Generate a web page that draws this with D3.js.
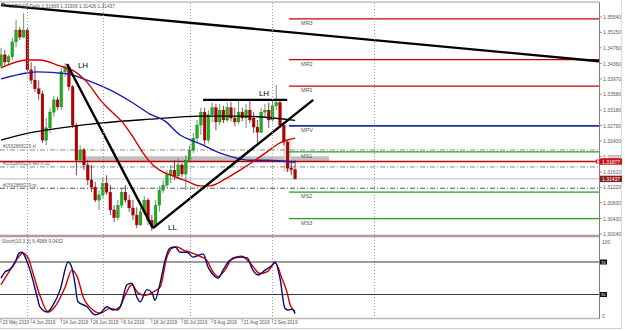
<!DOCTYPE html>
<html>
<head>
<meta charset="UTF-8">
<title>USDCAD,Daily</title>
<style>
  body { margin: 0; background: #fff; }
  svg text { font-family: "Liberation Sans", Arial, sans-serif; }
</style>
</head>
<body>
<script src="https://d3js.org/d3.v7.min.js"></script>
<script>
'use strict';

// ---- data ----
var firstBarDate = "2019-05-23";
var opens  = [1.3430,1.3458,1.3440,1.3453,1.3491,1.3521,1.3503,1.3521,1.3420,1.3394,1.3372,1.3359,1.3242,1.3273,1.3313,1.3344,1.3326,1.3415,1.3427,1.3377,
              1.3280,1.3191,1.3217,1.3179,1.3141,1.3123,1.3090,1.3103,1.3133,1.3110,1.3065,1.3045,1.3077,1.3110,1.3090,1.3070,1.3052,1.3027,1.3060,1.3090,
              1.3039,1.3024,1.3077,1.3115,1.3128,1.3153,1.3166,1.3151,1.3179,1.3156,1.3191,1.3217,1.3247,1.3280,1.3313,1.3242,1.3306,1.3324,1.3288,1.3318,
              1.3293,1.3324,1.3298,1.3288,1.3313,1.3298,1.3318,1.3298,1.3275,1.3262,1.3313,1.3318,1.3293,1.3329,1.3337,1.3280,1.3237,1.3171,1.31669];
var highs  = [1.3475,1.3470,1.3458,1.3501,1.3546,1.3529,1.3564,1.3526,1.3440,1.3430,1.3394,1.3367,1.3298,1.3324,1.3354,1.3352,1.3425,1.3437,1.3435,1.3382,
              1.3285,1.3229,1.3222,1.3191,1.3179,1.3136,1.3115,1.3146,1.3153,1.3128,1.3077,1.3090,1.3121,1.3128,1.3103,1.3090,1.3072,1.3070,1.3100,1.3095,
              1.3052,1.3090,1.3126,1.3141,1.3166,1.3179,1.3191,1.3196,1.3184,1.3204,1.3229,1.3260,1.3293,1.3324,1.3324,1.3318,1.3337,1.3334,1.3334,1.3329,
              1.3337,1.3339,1.3324,1.3344,1.3324,1.3334,1.3344,1.3313,1.3293,1.3324,1.3334,1.3337,1.3344,1.3382,1.3344,1.3288,1.3242,1.3191,1.31909];
var lows   = [1.3425,1.3432,1.3435,1.3445,1.3478,1.3496,1.3501,1.3415,1.3384,1.3364,1.3344,1.3235,1.3229,1.3260,1.3301,1.3318,1.3318,1.3402,1.3367,1.3273,
              1.3153,1.3184,1.3166,1.3128,1.3110,1.3085,1.3065,1.3095,1.3103,1.3052,1.3034,1.3039,1.3070,1.3083,1.3060,1.3039,1.3019,1.3024,1.3052,1.3027,
              1.3012,1.3019,1.3060,1.3108,1.3121,1.3133,1.3141,1.3146,1.3148,1.3115,1.3186,1.3209,1.3237,1.3255,1.3229,1.3235,1.3288,1.3267,1.3280,1.3285,
              1.3288,1.3290,1.3278,1.3283,1.3290,1.3273,1.3285,1.3260,1.3235,1.3260,1.3298,1.3273,1.3288,1.3318,1.3273,1.3229,1.3161,1.3153,1.31426];
var closes = [1.3458,1.3440,1.3453,1.3491,1.3521,1.3503,1.3521,1.3420,1.3394,1.3372,1.3359,1.3242,1.3273,1.3313,1.3344,1.3326,1.3415,1.3427,1.3377,1.3280,
              1.3191,1.3217,1.3179,1.3141,1.3123,1.3090,1.3103,1.3133,1.3110,1.3065,1.3045,1.3077,1.3110,1.3090,1.3070,1.3052,1.3027,1.3060,1.3090,1.3039,
              1.3024,1.3077,1.3115,1.3128,1.3153,1.3166,1.3151,1.3179,1.3156,1.3191,1.3217,1.3247,1.3280,1.3313,1.3242,1.3306,1.3324,1.3288,1.3318,1.3293,
              1.3324,1.3298,1.3288,1.3313,1.3298,1.3318,1.3293,1.3275,1.3262,1.3313,1.3318,1.3293,1.3329,1.3337,1.3280,1.3237,1.3171,1.3167,1.31437];

// moving averages, [bar, price]
var maRed   = [[0,1.3425],[6.9,1.3445],[10.3,1.3445],[15.6,1.3430],[18.8,1.3420],[22.8,1.3389],[26.3,1.3344],[28.9,1.3318],[32.4,1.3285],[35,1.3250],
               [37.7,1.3209],[40.3,1.3179],[43,1.3161],[45.6,1.3151],[49.3,1.3138],[52.8,1.3126],[55.4,1.3126],[59.4,1.3143],[63.4,1.3166],[67.4,1.3191],
               [70.8,1.3214],[74,1.3235],[78,1.3247]];
var maBlue  = [[0,1.3397],[6.9,1.3412],[9.5,1.3415],[17.5,1.3410],[22.8,1.3394],[28.9,1.3369],[35,1.3336],[39.5,1.3308],[43.5,1.3290],[47.5,1.3255],
               [50.9,1.3240],[54.1,1.3227],[57.3,1.3212],[61.5,1.3199],[66,1.3191],[70.6,1.3191],[78,1.3186]];
var maBlack = [[0,1.3242],[8.5,1.3262],[17.5,1.3275],[26.3,1.3285],[39.5,1.3295],[52.8,1.3303],[63.4,1.3303],[78,1.3292]];

// stochastic (10,3,3), [bar, value]
var stochMain = [[0,50],[1.1,58],[2.4,61],[3.7,69],[4.8,81],[5.6,82],[6.4,76],[7.7,60],[9.6,27],[10.3,15],[12.2,8.5],[13.8,17],[15.7,36],[17.8,70],
                 [18.8,63],[19.6,44],[20.4,21],[22.8,15],[24.9,5],[26.3,7],[28.1,15],[29.7,11],[31.6,15],[33.4,42],[34.7,44],[36.1,26],[36.9,21],
                 [38.7,36],[40.1,32],[40.8,23],[42.2,44],[43.5,72],[44.8,87],[46.2,88.5],[47.5,82],[49.3,82],[50.9,76],[52.8,79],[53.6,80],[54.9,64],
                 [56.8,52],[57.6,50],[58.9,60],[60.7,72],[63.4,76],[65.3,75],[66.8,60],[68.2,54],[70,60],[71.9,66],[72.7,70],[74,50],[75.3,13],
                 [76.1,11],[77.2,12],[78,6.5]];
var stochSignal = [[0,42],[2.4,60],[4.5,75],[5.8,81],[7.2,75],[8.5,56],[10.3,29],[12.5,8.5],[14.3,15],[17,39],[18.8,60],[20.2,52],[21.8,27],
                   [24.4,11],[26.3,7],[28.9,13],[31,11],[32.9,29],[34.7,42],[36.3,32],[38.2,29],[40.3,33],[42.2,39],[44,76],[45.4,87],[46.7,88.5],
                   [48.3,85],[50.1,82],[52.8,77],[54.6,72],[56.2,58],[57.6,52],[59.4,60],[61.5,75],[63.9,77],[66,69],[68.7,56],[70.6,58],
                   [72.7,69],[74.5,50],[75.9,32],[76.7,17],[78,9]];
var stochLevels = [70, 30];

// drawn objects
var trendLines = [
  [[0,1.3584],[158.6,1.3442]],
  [[17.5,1.3435],[40.3,1.3019]],
  [[40.3,1.3019],[82.8,1.3344]],
  [[53.6,1.3344],[75.9,1.3344]]
];
var swingNames = ["LH", "LH", "LL"];
var swingPoints = [[20.4,1.3425],[68.4,1.3354],[44.3,1.3014]];

var pivotNames  = ["MR3","MR2","MR1","MPV","MS1","MS2","MS3"];
var pivotValues = [1.3549,1.3446,1.3379,1.3278,1.3212,1.3110,1.3043];
var pivotColors = ["#c80000","#c80000","#c80000","#1a2f9e","#22a022","#22a022","#22a022"];
var pivotFromBar = 76.4;

var orderNames  = ["#1562888229 sl", "#1562888229 sell 0.10", "#1562888229 tp"];
var orderPrices = [1.3217, 1.3174, 1.3120];
var hLinePrice = 1.31877;
var bidPrice = 1.31437;
var bandBars = [22, 87], bandPrices = [1.31877, 1.3201];
var boxBars = [74.9, 77], boxPrices = [1.3161, 1.3245];

var priceTicks = [1.35540,1.35150,1.34760,1.34360,1.33970,1.33580,1.33180,1.32790,1.32400,1.32000,1.31610,1.31220,1.30830,1.30430,1.30040];
var dateTicks  = ["2019-05-23","2019-06-04","2019-06-14","2019-06-26","2019-07-08","2019-07-18","2019-07-30","2019-08-09","2019-08-21","2019-09-02"];
var gridDates  = ["2019-06-03","2019-07-01","2019-08-01","2019-09-02","2019-10-09"];

// ---- layout ----
var width = 625, height = 331;
var plotRight = 599;
var mainTop = 3, mainBottom = 235;

var parse = d3.timeParse("%Y-%m-%d");
var fmt = d3.timeFormat("%-d %b %Y");

// bar number of a date, counting weekdays only
function barOf(s){
	var d0 = parse(firstBarDate), d1 = parse(s);
	return d3.timeDay.range(d0, d1).filter(function(d){ var w = d.getDay(); return w > 0 && w < 6; }).length;
}

var x = d3.scaleLinear().domain([0, 158.6]).range([1, plotRight]);
var y = d3.scaleLinear().domain([1.3004, 1.3554]).range([234, 17]);
var ys = d3.scaleLinear().domain([0, 100]).range([318.9, 237.6]);

var svg = d3.select("body").append("svg")
	.attr("width", width)
	.attr("height", height);

svg.append("rect").attr("width", width).attr("height", height).attr("fill", "#fff");

svg.append("clipPath").attr("id", "mainclip")
	.append("rect").attr("x", 0).attr("y", mainTop).attr("width", plotRight).attr("height", mainBottom - mainTop);

var main = svg.append("g").attr("clip-path", "url(#mainclip)");

// vertical dotted grid
gridDates.forEach(function(s){
	var gx = Math.round(x(barOf(s))) + 0.5;
	svg.append("line")
		.attr("x1", gx).attr("x2", gx).attr("y1", mainTop).attr("y2", 318)
		.attr("stroke", "#9a9a9a").attr("stroke-width", 1).attr("stroke-dasharray", "1,2");
});

// grey band and box
main.append("rect")
	.attr("x", x(bandBars[0])).attr("width", x(bandBars[1]) - x(bandBars[0]))
	.attr("y", y(bandPrices[1])).attr("height", y(bandPrices[0]) - y(bandPrices[1]))
	.attr("fill", "#bab2b2").attr("opacity", 0.85);
main.append("rect")
	.attr("x", x(boxBars[0])).attr("width", x(boxBars[1]) - x(boxBars[0]))
	.attr("y", y(boxPrices[1])).attr("height", y(boxPrices[0]) - y(boxPrices[1]))
	.attr("fill", "#d4d4d4").attr("opacity", 0.8);

// order lines
var orderColors = ["#8f8f70", "#8a8a8a", "#555"];
orderPrices.forEach(function(p, i){
	main.append("line")
		.attr("x1", 0).attr("x2", plotRight).attr("y1", y(p)).attr("y2", y(p))
		.attr("stroke", orderColors[i]).attr("stroke-width", 1).attr("stroke-dasharray", "5,2,1,2");
	main.append("text")
		.attr("x", 3).attr("y", y(p) - 1.5)
		.attr("font-size", 4.6).attr("fill", "#666")
		.text(orderNames[i]);
});

// bid line
main.append("line")
	.attr("x1", 0).attr("x2", plotRight).attr("y1", y(bidPrice)).attr("y2", y(bidPrice))
	.attr("stroke", "#aebdc6").attr("stroke-width", 1);

// horizontal red line
main.append("line")
	.attr("x1", 0).attr("x2", plotRight).attr("y1", y(hLinePrice)).attr("y2", y(hLinePrice))
	.attr("stroke", "#c00000").attr("stroke-width", 1.3);

// pivot lines
pivotValues.forEach(function(p, i){
	main.append("line")
		.attr("x1", x(pivotFromBar)).attr("x2", plotRight).attr("y1", y(p)).attr("y2", y(p))
		.attr("stroke", pivotColors[i]).attr("stroke-width", i === 3 ? 1.8 : 1.3);
	main.append("text")
		.attr("x", x(pivotFromBar) + 12).attr("y", y(p) + 6)
		.attr("font-size", 5.5).attr("fill", "#555")
		.text(pivotNames[i]);
});

// candles
var bars = d3.range(opens.length);
var bodyW = 2.8;
var cg = main.append("g");
bars.forEach(function(i){
	var up = closes[i] >= opens[i];
	var cx = x(i);
	cg.append("line")
		.attr("x1", cx).attr("x2", cx)
		.attr("y1", y(highs[i])).attr("y2", y(lows[i]))
		.attr("stroke", up ? "#4a7a4a" : "#6a1a1a").attr("stroke-width", 0.8);
	var top = y(Math.max(opens[i], closes[i])), bot = y(Math.min(opens[i], closes[i]));
	cg.append("rect")
		.attr("x", cx - bodyW / 2).attr("width", bodyW)
		.attr("y", top).attr("height", Math.max(1, bot - top))
		.attr("fill", up ? "#1fae1f" : "#b40000")
		.attr("stroke", up ? "#147014" : "#7a0000").attr("stroke-width", 0.3);
});

// moving averages
var maLine = d3.line()
	.x(function(d){ return x(d[0]); })
	.y(function(d){ return y(d[1]); })
	.curve(d3.curveMonotoneX);

[[maBlack, "#000", 1.3], [maBlue, "#1c1cb0", 1.4], [maRed, "#d40000", 1.4]].forEach(function(m){
	main.append("path").datum(m[0])
		.attr("d", maLine)
		.attr("fill", "none").attr("stroke", m[1]).attr("stroke-width", m[2]);
});

// trend lines
trendLines.forEach(function(t){
	main.append("line")
		.attr("x1", x(t[0][0])).attr("y1", y(t[0][1]))
		.attr("x2", x(t[1][0])).attr("y2", y(t[1][1]))
		.attr("stroke", "#000").attr("stroke-width", 2.4);
});

swingPoints.forEach(function(p, i){
	main.append("text")
		.attr("x", x(p[0])).attr("y", y(p[1]))
		.attr("font-size", 8).attr("fill", "#000")
		.text(swingNames[i]);
});

// header
svg.append("path").attr("d", "M1,3 L5,3 L3,7 Z").attr("fill", "#555");
svg.append("text")
	.attr("x", 8).attr("y", 7.5)
	.attr("font-size", 4.8).attr("fill", "#555")
	.text("USDCAD,Daily  1.31669 1.31909 1.31426 1.31437");

// frame lines
svg.append("line").attr("x1", 0).attr("x2", plotRight).attr("y1", 2).attr("y2", 2)
	.attr("stroke", "#b49a9a").attr("stroke-width", 1.2);
svg.append("line").attr("x1", plotRight + 0.5).attr("x2", plotRight + 0.5).attr("y1", 2).attr("y2", 319)
	.attr("stroke", "#8c7a7a").attr("stroke-width", 1);
svg.append("line").attr("x1", 0).attr("x2", plotRight).attr("y1", 236).attr("y2", 236)
	.attr("stroke", "#b09a9a").attr("stroke-width", 2.6);
svg.append("line").attr("x1", 0).attr("x2", plotRight).attr("y1", 318.5).attr("y2", 318.5)
	.attr("stroke", "#c8b4b4").attr("stroke-width", 1.6);
svg.append("line").attr("x1", 621.5).attr("x2", 621.5).attr("y1", 0).attr("y2", 329)
	.attr("stroke", "#dcdcdc").attr("stroke-width", 1);
svg.append("line").attr("x1", 0).attr("x2", 622).attr("y1", 328.5).attr("y2", 328.5)
	.attr("stroke", "#cfcfcf").attr("stroke-width", 1);

// price axis
priceTicks.forEach(function(p){
	svg.append("line").attr("x1", plotRight).attr("x2", plotRight + 3).attr("y1", y(p)).attr("y2", y(p))
		.attr("stroke", "#8c7a7a").attr("stroke-width", 0.8);
	svg.append("text")
		.attr("x", plotRight + 4).attr("y", y(p) + 2)
		.attr("font-size", 5).attr("fill", "#6a5555")
		.text(p.toFixed(5));
});

function priceTag(p, col){
	svg.append("rect")
		.attr("x", plotRight + 1).attr("y", y(p) - 3.2).attr("width", 22).attr("height", 6.4)
		.attr("fill", col);
	svg.append("text")
		.attr("x", plotRight + 3).attr("y", y(p) + 2)
		.attr("font-size", 5).attr("fill", "#fff")
		.text(p.toFixed(5));
}
svg.append("rect").attr("x", plotRight - 2.5).attr("y", y(hLinePrice) - 1.5).attr("width", 3).attr("height", 3)
	.attr("fill", "#fff").attr("stroke", "#c00000").attr("stroke-width", 0.8);
priceTag(hLinePrice, "#d01010");
priceTag(bidPrice, "#8a1c1c");

// stochastic window
var osc = svg.append("g");
stochLevels.forEach(function(v){
	osc.append("line").attr("x1", 0).attr("x2", plotRight).attr("y1", ys(v)).attr("y2", ys(v))
		.attr("stroke", "#3a3a3a").attr("stroke-width", 1);
	osc.append("rect").attr("x", plotRight + 1).attr("y", ys(v) - 2.5).attr("width", 7).attr("height", 5).attr("fill", "#111");
	osc.append("text").attr("x", plotRight + 2).attr("y", ys(v) + 1.6)
		.attr("font-size", 4).attr("fill", "#fff").text(v);
});

var stLine = d3.line()
	.x(function(d){ return x(d[0]); })
	.y(function(d){ return ys(d[1]); })
	.curve(d3.curveMonotoneX);

osc.append("path").datum(stochSignal).attr("d", stLine)
	.attr("fill", "none").attr("stroke", "#d00000").attr("stroke-width", 1.4);
osc.append("path").datum(stochMain).attr("d", stLine)
	.attr("fill", "none").attr("stroke", "#0a0a6e").attr("stroke-width", 1.4);

osc.append("text").attr("x", 2).attr("y", 242.5)
	.attr("font-size", 4.8).attr("fill", "#555")
	.text("Stoch(10,3,3) 6.4988 9.0432");
osc.append("text").attr("x", plotRight + 3).attr("y", 243.5)
	.attr("font-size", 5).attr("fill", "#6a5555").text("100");
osc.append("text").attr("x", plotRight + 3).attr("y", 318)
	.attr("font-size", 5).attr("fill", "#6a5555").text("0");

// time axis
dateTicks.forEach(function(s){
	var tx = x(barOf(s));
	svg.append("line").attr("x1", tx).attr("x2", tx).attr("y1", 319).attr("y2", 323)
		.attr("stroke", "#777").attr("stroke-width", 0.6);
	svg.append("text")
		.attr("x", tx + 1.5).attr("y", 324)
		.attr("font-size", 4.6).attr("fill", "#555")
		.text(fmt(parse(s)));
});
</script>
</body>
</html>
